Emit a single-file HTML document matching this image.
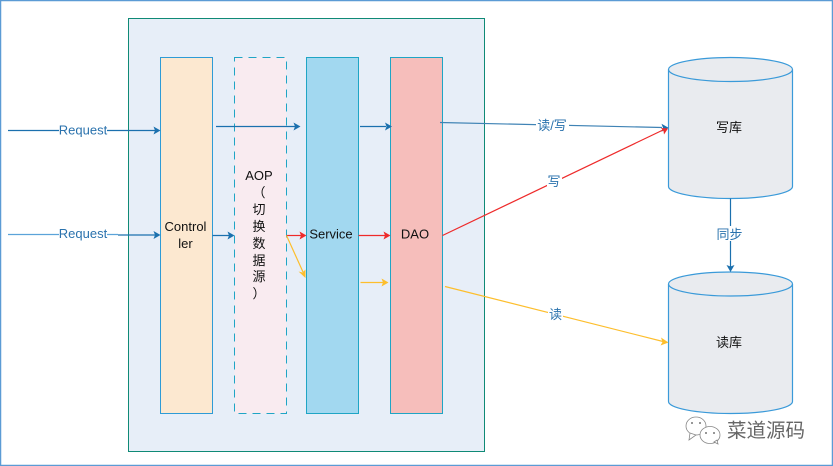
<!DOCTYPE html>
<html>
<head>
<meta charset="utf-8">
<style>
html,body{margin:0;padding:0;background:#fff;}
svg{display:block;}
text{font-family:"Liberation Sans","Noto Sans CJK SC",sans-serif;font-size:13px;}
</style>
</head>
<body>
<svg width="833" height="466" viewBox="0 0 833 466" xmlns="http://www.w3.org/2000/svg">
<rect width="833" height="466" fill="#fff"/>
<rect x="0.5" y="0.5" width="832" height="465" fill="none" stroke="#5b9bd5" stroke-width="1.5"/>
<rect x="128.5" y="18.5" width="356" height="433" fill="#e7eef8" stroke="#0f8a76" stroke-width="1"/>
<rect x="160.5" y="57.5" width="52" height="356" fill="#fce8d0" stroke="#2e9bd6"/>
<rect x="234.5" y="57.5" width="52" height="356" fill="#f9ebf0" stroke="#1fa5c5" stroke-dasharray="8 6"/>
<rect x="306.5" y="57.5" width="52" height="356" fill="#a2d8f0" stroke="#1fa5c5"/>
<rect x="390.5" y="57.5" width="52" height="356" fill="#f6bebb" stroke="#1fa5c5"/>

<!-- cylinders -->
<path d="M668.5 69.5 V186.5 C668.5 193 696 198.500 730.5 198.500 C765 198.500 792.5 193 792.5 186.5 V69.5 C792.5 63 765 57.5 730.5 57.5 C696 57.5 668.5 63 668.5 69.5 Z" fill="#e9ebef" stroke="#3a9ad9" stroke-width="1.2"/>
<path d="M668.5 69.5 C668.5 76 696 81.5 730.5 81.5 C765 81.5 792.5 76 792.5 69.5" fill="none" stroke="#3a9ad9" stroke-width="1.2"/>
<path d="M668.5 284 V401.5 C668.5 408 696 413.5 730.5 413.5 C765 413.5 792.5 408 792.5 401.5 V284 C792.5 277.5 765 272 730.5 272 C696 272 668.5 277.5 668.5 284 Z" fill="#e9ebef" stroke="#3a9ad9" stroke-width="1.2"/>
<path d="M668.5 284 C668.5 290.5 696 296 730.5 296 C765 296 792.5 290.5 792.5 284" fill="none" stroke="#3a9ad9" stroke-width="1.2"/>

<!-- blue connectors -->
<g stroke="#1b70ae" stroke-width="1.2" fill="none">
<path d="M8 130.5 H155"/>
<path d="M8 234.5 H118" stroke="#5ba3d9"/>
<path d="M118 235 H155"/>
<path d="M212.5 235.5 H229"/>
<path d="M216 126.5 H295"/>
<path d="M360 126.5 H386"/>
<path d="M440 122.500 L662 127.500" stroke="#3f83b5"/>
<path d="M730.5 198.500 V267"/>
</g>
<g fill="#1b70ae">
<path d="M160.5 130.5 L153.500 126.500 L155 130.5 L153.500 134.500 Z"/>
<path d="M160.5 235 L153.500 231 L155 235 L153.500 239 Z"/>
<path d="M234.5 235.5 L227.500 231.500 L229 235.5 L227.500 239.500 Z"/>
<path d="M300.5 126.5 L293.500 122.500 L295 126.5 L293.500 130.500 Z"/>
<path d="M392 126.5 L385 122.500 L386.500 126.5 L385 130.500 Z"/>
<path d="M668.5 127.700 L661.500 123.700 L663 127.700 L661.500 131.700 Z"/>
<path d="M730.5 272 L726.500 265 L730.5 266.500 L734.500 265 Z"/>
</g>

<!-- red connectors -->
<g stroke="#ee2a2a" stroke-width="1.2" fill="none">
<path d="M286.5 235.5 H302"/>
<path d="M358.5 235.5 H386"/>
<path d="M442.5 235.5 L663 130"/>
</g>
<g fill="#ee2a2a">
<path d="M306.5 235.5 L299.500 231.500 L301 235.5 L299.500 239.500 Z"/>
<path d="M390.5 235.5 L383.500 231.500 L385 235.5 L383.500 239.500 Z"/>
<path d="M668 128.500 L661 128 L663.500 131 L664 134.500 Z"/>
</g>

<!-- yellow connectors -->
<g stroke="#fdbe2c" stroke-width="1.2" fill="none">
<path d="M286.500 235.500 L303 272"/>
<path d="M360.500 282.500 H384"/>
<path d="M445 286.500 L663 341.500"/>
</g>
<g fill="#fdbe2c">
<path d="M305.500 278 L298.500 271.500 L302.500 272.500 L305.500 269.500 Z"/>
<path d="M388.500 282.500 L381.500 278.500 L383 282.500 L381.500 286.500 Z"/>
<path d="M668.500 342.500 L661 337.500 L662.500 342 L660.500 345.500 Z"/>
</g>

<!-- connector labels -->
<g fill="#2a72ad" text-anchor="middle">
<rect x="59" y="122" width="48" height="16" fill="#e7eef8" opacity="0"/>
<rect x="59" y="122" width="48" height="16" fill="#fff"/>
<text x="83" y="134.500">Request</text>
<rect x="59" y="226" width="48" height="16" fill="#fff"/>
<text x="83" y="238">Request</text>
<rect x="536" y="118" width="33" height="15" fill="#fff"/>
<text x="552" y="130">读/写</text>
<rect x="547" y="174" width="15" height="15" fill="#fff"/>
<text x="554" y="186">写</text>
<rect x="716" y="226" width="28" height="15" fill="#fff"/>
<text x="729.500" y="239">同步</text>
<rect x="548" y="307" width="15" height="15" fill="#fff"/>
<text x="555.500" y="319">读</text>
</g>

<!-- node labels -->
<g fill="#111" text-anchor="middle">
<text x="185.500" y="231">Control</text>
<text x="185.500" y="248">ler</text>
<text x="259" y="180">AOP</text>
<text x="259" y="197">（</text>
<text x="259" y="214">切</text>
<text x="259" y="231">换</text>
<text x="259" y="248">数</text>
<text x="259" y="265">据</text>
<text x="259" y="281">源</text>
<text x="259" y="298">）</text>
<text x="331" y="238.500">Service</text>
<text x="415" y="238.500">DAO</text>
<text x="729" y="132">写库</text>
<text x="729" y="347">读库</text>
</g>

<!-- watermark -->
<g fill="#fff" stroke="#888" stroke-width="0.8">
<ellipse cx="696" cy="426" rx="10" ry="9"/>
<path d="M690 433 L689 440 L696 435 Z"/>
<ellipse cx="710" cy="435" rx="10" ry="8.500"/>
<path d="M714 442 L718 444 L717 440 Z"/>
</g>
<g fill="#777">
<circle cx="692" cy="423" r="1"/><circle cx="700" cy="423" r="1"/>
<circle cx="706" cy="433" r="1"/><circle cx="714" cy="433" r="1"/>
</g>
<text x="727" y="437" fill="#666" style="font-size:19.500px">菜道源码</text>
</svg>
</body>
</html>
